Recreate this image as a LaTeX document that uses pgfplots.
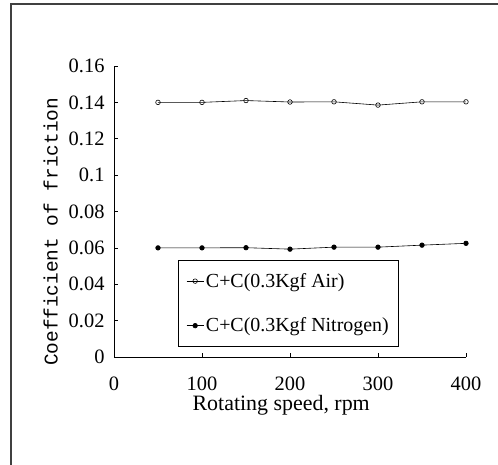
\documentclass[border=0pt]{standalone}
\usepackage{fontspec}
\setmainfont{Liberation Serif}
\newfontfamily\monofont{Liberation Mono}
\usepackage{pgfplots}
\pgfplotsset{compat=1.18}

\pgfplotstableread{
x y
50 0.1400
100 0.1400
150 0.1410
200 0.1402
250 0.1403
300 0.1385
350 0.1403
400 0.1403
}\airdata

\pgfplotstableread{
x y
50 0.0600
100 0.0600
150 0.0601
200 0.0593
250 0.0604
300 0.0604
350 0.0615
400 0.0625
}\nitrodata

\begin{document}
\begin{tikzpicture}
\path[use as bounding box] (0,0) rectangle (498bp,465bp);
% scanned page frame
\draw[line width=1.2pt, black!75] (11bp,0) -- (11bp,461bp) -- (498bp,461bp);

\begin{axis}[
at={(114bp,108bp)},
anchor=south west,
scale only axis,
width=352bp,
height=291bp,
xmin=0, xmax=400,
ymin=0, ymax=0.16,
axis lines=left,
axis line style={-, line width=0.6pt},
tick align=inside,
major tick length=4bp,
tick style={black, line width=0.5pt},
xtick={0,100,200,300,400},
ytick={0,0.02,0.04,0.06,0.08,0.1,0.12,0.14,0.16},
yticklabels={0,0.02,0.04,0.06,0.08,0.1,0.12,0.14,0.16},
scaled y ticks=false,
/pgf/number format/assume math mode=true,
ticklabel style={font=\fontsize{20.5}{23}\selectfont},
xticklabel style={yshift=-16bp},
yticklabel style={xshift=-6bp},
xlabel={Rotating speed, rpm},
ylabel={Coefficient of friction},
xlabel style={at={(rel axis cs:0.475,-0.166)}, anchor=center, font=\fontsize{22}{25}\selectfont},
ylabel style={at={(rel axis cs:-0.18,0.43)}, anchor=center, rotate=0, font=\monofont\fontsize{19.5}{22}\selectfont},
legend style={
  at={(rel axis cs:0.182,0.333)},
  anchor=north west,
  draw=black,
  line width=0.6pt,
  font=\fontsize{20}{23}\selectfont,
  inner xsep=8bp,
  inner ysep=11bp,
  row sep=25bp,
  cells={anchor=west},
},
legend cell align={left},
]
\addplot[black, line width=0.6pt, mark=o, mark size=2.3bp, mark options={solid, fill=white}] table[x=x, y=y] {\airdata};
\addlegendentry{C+C(0.3Kgf Air)}
\addplot[black, line width=0.6pt, mark=*, mark size=2.3bp, mark options={solid}] table[x=x, y=y] {\nitrodata};
\addlegendentry{C+C(0.3Kgf Nitrogen)}
\end{axis}
\end{tikzpicture}
\end{document}
